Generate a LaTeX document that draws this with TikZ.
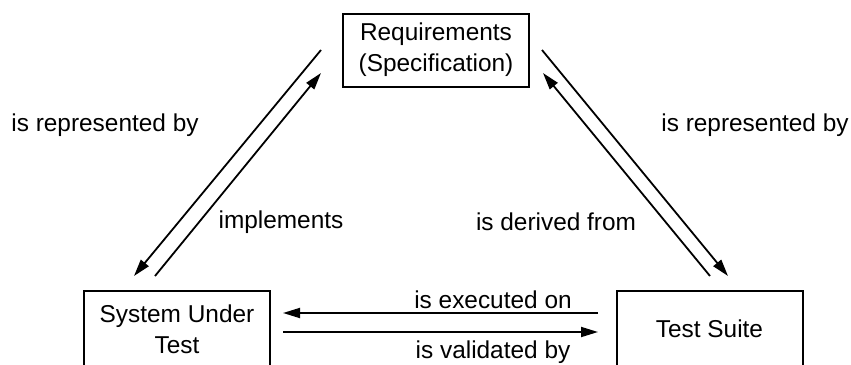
\documentclass[tikz,border=0pt]{standalone}
\usepackage{fontspec}
\setmainfont{Liberation Sans}
\usetikzlibrary{arrows.meta}
\tikzset{
  box/.style={draw, line width=1pt, align=center, minimum width=93pt, minimum height=36.5pt, inner sep=0pt},
  lowbox/.style={box, minimum height=38pt},
  relarrow/.style={line width=0.9pt, -{Triangle[length=8.5pt, width=5pt]}},
  lab/.style={inner sep=0pt}
}
\begin{document}
\begin{tikzpicture}[x=0.5pt, y=-0.5pt, font=\fontsize{12.2}{15.5}\selectfont]
\useasboundingbox (0,0) rectangle (851,364);
\clip (0,0) rectangle (851,364);
\node[box] (req) at (436, 50) {Requirements\\(Specification)};
\node[lowbox] (sut) at (177, 329) {System Under\\Test};
\node[lowbox] (suite) at (709.5, 329) {Test Suite};
% left pair
\coordinate (reqA) at (321, 50);
\coordinate (reqB) at (321, 73);
\coordinate (sutA) at (134, 276);
\coordinate (sutB) at (155, 276);
\draw [relarrow] (reqA) to (sutA);
\draw [relarrow] (sutB) to (reqB);
% right pair
\coordinate (reqC) at (542, 50);
\coordinate (reqD) at (543, 73);
\coordinate (suiteC) at (728, 276);
\coordinate (suiteD) at (710, 276);
\draw [relarrow] (reqC) to (suiteC);
\draw [relarrow] (suiteD) to (reqD);
% bottom pair
\coordinate (suiteE) at (598, 313);
\coordinate (sutE) at (283, 313);
\coordinate (sutF) at (283, 332);
\coordinate (suiteF) at (598, 332);
\draw [relarrow] (suiteE) to (sutE);
\draw [relarrow] (sutF) to (suiteF);
\node[lab] (l1) at (105, 125) {is represented by};
\node[lab] (l2) at (281, 222) {implements};
\node[lab] (l3) at (556, 222) {is derived from};
\node[lab] (l4) at (755, 125) {is represented by};
\node[lab] (l5) at (493, 300) {is executed on};
\node[lab] (l6) at (493, 352) {is validated by};
\end{tikzpicture}
\end{document}
